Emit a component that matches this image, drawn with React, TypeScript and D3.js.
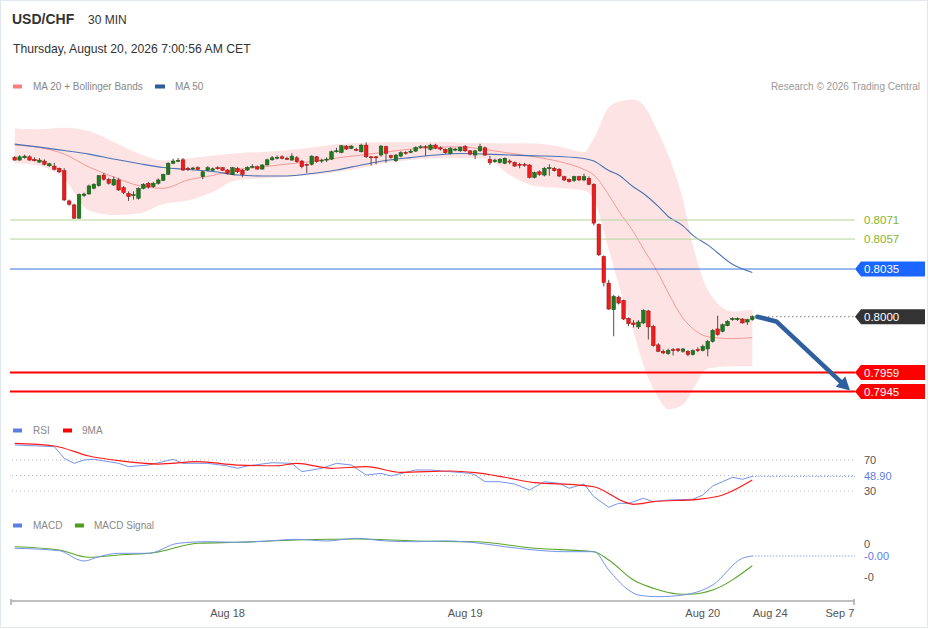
import React from 'react';
import * as d3 from 'd3';

const FONT = 'Arial, "Liberation Sans", Helvetica, sans-serif';

// 30 min candles, Aug 17 (late) .. Aug 20 07:00
const opens = [
  0.81170, 0.81150, 0.81167, 0.81174, 0.81155, 0.81135, 0.81143, 0.81108, 0.81106, 0.81089,
  0.81072, 0.80850, 0.80821, 0.80723, 0.80889, 0.80901, 0.80943, 0.80962, 0.81040, 0.81009,
  0.80967, 0.81004, 0.80947, 0.80906, 0.80892, 0.80870, 0.80943, 0.80979, 0.80955, 0.80979,
  0.81001, 0.81045, 0.81126, 0.81143, 0.81152, 0.81089, 0.81084, 0.81094, 0.81028, 0.81075,
  0.81075, 0.81094, 0.81094, 0.81077, 0.81045, 0.81089, 0.81077, 0.81077, 0.81097, 0.81101,
  0.81084, 0.81114, 0.81152, 0.81165, 0.81174, 0.81163, 0.81150, 0.81167, 0.81143, 0.81119,
  0.81119, 0.81174, 0.81143, 0.81150, 0.81157, 0.81211, 0.81206, 0.81253, 0.81236, 0.81229,
  0.81211, 0.81260, 0.81174, 0.81174, 0.81187, 0.81248, 0.81182, 0.81145, 0.81179, 0.81206,
  0.81206, 0.81216, 0.81243, 0.81248, 0.81229, 0.81260, 0.81240, 0.81229, 0.81199, 0.81223,
  0.81218, 0.81248, 0.81218, 0.81187, 0.81218, 0.81240, 0.81155, 0.81138, 0.81133, 0.81126,
  0.81143, 0.81133, 0.81119, 0.81119, 0.81114, 0.81023, 0.81064, 0.81040, 0.81089, 0.81089,
  0.81082, 0.81028, 0.81009, 0.80999, 0.81028, 0.81004, 0.81016, 0.80972, 0.80679, 0.80442,
  0.80247, 0.80051, 0.80144, 0.80119, 0.79988, 0.79954, 0.79925, 0.79954, 0.80042, 0.79929,
  0.79793, 0.79746, 0.79729, 0.79758, 0.79763, 0.79746, 0.79746, 0.79722, 0.79758, 0.79751,
  0.79763, 0.79819, 0.79910, 0.79892, 0.79934, 0.79978, 0.79978, 0.79983, 0.79961, 0.79978,
];
const highs = [
  0.81180, 0.81185, 0.81190, 0.81185, 0.81170, 0.81165, 0.81155, 0.81130, 0.81130, 0.81095,
  0.81090, 0.80860, 0.80830, 0.80905, 0.80910, 0.80970, 0.80980, 0.81040, 0.81055, 0.81020,
  0.81030, 0.81020, 0.80960, 0.80920, 0.80920, 0.80950, 0.80980, 0.80990, 0.80990, 0.81015,
  0.81050, 0.81135, 0.81160, 0.81165, 0.81165, 0.81100, 0.81100, 0.81105, 0.81070, 0.81105,
  0.81095, 0.81105, 0.81100, 0.81085, 0.81100, 0.81100, 0.81085, 0.81105, 0.81120, 0.81110,
  0.81120, 0.81160, 0.81180, 0.81185, 0.81185, 0.81175, 0.81200, 0.81180, 0.81150, 0.81125,
  0.81185, 0.81180, 0.81160, 0.81170, 0.81220, 0.81240, 0.81260, 0.81260, 0.81260, 0.81240,
  0.81270, 0.81280, 0.81180, 0.81180, 0.81260, 0.81255, 0.81190, 0.81195, 0.81215, 0.81215,
  0.81230, 0.81250, 0.81260, 0.81260, 0.81270, 0.81270, 0.81250, 0.81235, 0.81245, 0.81240,
  0.81250, 0.81260, 0.81225, 0.81225, 0.81270, 0.81250, 0.81180, 0.81160, 0.81165, 0.81170,
  0.81155, 0.81140, 0.81130, 0.81130, 0.81120, 0.81065, 0.81075, 0.81100, 0.81120, 0.81100,
  0.81090, 0.81035, 0.81015, 0.81035, 0.81035, 0.81050, 0.81030, 0.80980, 0.80685, 0.80450,
  0.80271, 0.80160, 0.80155, 0.80125, 0.79995, 0.79975, 0.79975, 0.80055, 0.80050, 0.79940,
  0.79805, 0.79760, 0.79765, 0.79770, 0.79770, 0.79770, 0.79755, 0.79760, 0.79775, 0.79795,
  0.79830, 0.79910, 0.80007, 0.79950, 0.79975, 0.79995, 0.79995, 0.79990, 0.79985, 0.80010,
];
const lows = [
  0.81145, 0.81145, 0.81160, 0.81145, 0.81140, 0.81130, 0.81110, 0.81100, 0.81075, 0.81055,
  0.80850, 0.80815, 0.80720, 0.80720, 0.80880, 0.80895, 0.80935, 0.80955, 0.81000, 0.80970,
  0.80960, 0.80925, 0.80900, 0.80850, 0.80860, 0.80860, 0.80935, 0.80940, 0.80945, 0.80970,
  0.80995, 0.81040, 0.81120, 0.81135, 0.81070, 0.81070, 0.81075, 0.81075, 0.81010, 0.81070,
  0.81070, 0.81080, 0.81070, 0.81045, 0.81040, 0.81055, 0.81025, 0.81070, 0.81090, 0.81080,
  0.81080, 0.81110, 0.81145, 0.81155, 0.81155, 0.81150, 0.81145, 0.81130, 0.81090, 0.81055,
  0.81110, 0.81130, 0.81130, 0.81135, 0.81150, 0.81205, 0.81200, 0.81225, 0.81230, 0.81215,
  0.81205, 0.81165, 0.81110, 0.81120, 0.81175, 0.81130, 0.81160, 0.81135, 0.81170, 0.81190,
  0.81200, 0.81210, 0.81235, 0.81180, 0.81220, 0.81230, 0.81220, 0.81195, 0.81190, 0.81215,
  0.81210, 0.81210, 0.81185, 0.81157, 0.81210, 0.81180, 0.81114, 0.81130, 0.81125, 0.81120,
  0.81120, 0.81100, 0.81090, 0.81100, 0.81015, 0.81015, 0.81035, 0.81030, 0.81035, 0.81065,
  0.81025, 0.80995, 0.80985, 0.80990, 0.80995, 0.80995, 0.80965, 0.80670, 0.80445, 0.80222,
  0.80050, 0.79856, 0.80090, 0.79975, 0.79930, 0.79920, 0.79910, 0.79945, 0.79832, 0.79780,
  0.79740, 0.79725, 0.79720, 0.79715, 0.79740, 0.79735, 0.79710, 0.79715, 0.79740, 0.79745,
  0.79709, 0.79810, 0.79860, 0.79885, 0.79930, 0.79970, 0.79970, 0.79950, 0.79940, 0.79970,
];
const closes = [
  0.81150, 0.81174, 0.81179, 0.81150, 0.81145, 0.81150, 0.81119, 0.81123, 0.81082, 0.81064,
  0.80857, 0.80826, 0.80723, 0.80896, 0.80901, 0.80960, 0.80972, 0.81035, 0.81009, 0.80980,
  0.81009, 0.80930, 0.80911, 0.80881, 0.80896, 0.80943, 0.80972, 0.80952, 0.80979, 0.81004,
  0.81045, 0.81126, 0.81143, 0.81148, 0.81077, 0.81082, 0.81092, 0.81082, 0.81064, 0.81094,
  0.81086, 0.81086, 0.81075, 0.81053, 0.81094, 0.81064, 0.81045, 0.81097, 0.81104, 0.81084,
  0.81114, 0.81152, 0.81167, 0.81170, 0.81163, 0.81155, 0.81179, 0.81138, 0.81101, 0.81114,
  0.81179, 0.81138, 0.81150, 0.81157, 0.81211, 0.81218, 0.81255, 0.81231, 0.81253, 0.81221,
  0.81260, 0.81174, 0.81170, 0.81170, 0.81253, 0.81199, 0.81170, 0.81187, 0.81204, 0.81199,
  0.81216, 0.81243, 0.81248, 0.81240, 0.81260, 0.81236, 0.81231, 0.81204, 0.81236, 0.81231,
  0.81243, 0.81218, 0.81194, 0.81218, 0.81248, 0.81187, 0.81130, 0.81150, 0.81155, 0.81163,
  0.81135, 0.81106, 0.81114, 0.81111, 0.81023, 0.81057, 0.81045, 0.81089, 0.81094, 0.81072,
  0.81033, 0.81004, 0.80991, 0.81028, 0.81004, 0.81028, 0.80972, 0.80687, 0.80454, 0.80251,
  0.80056, 0.80149, 0.80100, 0.79983, 0.79949, 0.79941, 0.79961, 0.80046, 0.79925, 0.79788,
  0.79746, 0.79734, 0.79753, 0.79751, 0.79751, 0.79763, 0.79722, 0.79751, 0.79751, 0.79782,
  0.79819, 0.79900, 0.79868, 0.79941, 0.79966, 0.79988, 0.79988, 0.79954, 0.79978, 0.80000,
];

// moving averages / bands read at these candle indices
const maIdx = [0, 5, 10, 15, 20, 25, 30, 35, 40, 45, 50, 55, 60, 65, 70, 75, 80, 85, 90, 95,
  100, 105, 110, 115, 117, 120, 122, 125, 127, 130, 132, 135, 137, 140, 145, 149];
const ma50 = [0.81267, 0.81245, 0.81220, 0.81194, 0.81158, 0.81125, 0.81095, 0.81081, 0.81066, 0.81040,
  0.81033, 0.81033, 0.81051, 0.81077, 0.81114, 0.81147, 0.81168, 0.81187, 0.81198, 0.81194,
  0.81187, 0.81181, 0.81176, 0.81161, 0.81143, 0.81073, 0.81040, 0.80952, 0.80905, 0.80810,
  0.80736, 0.80667, 0.80597, 0.80527, 0.80385, 0.80325];
const ma20 = [0.81260, 0.81242, 0.81194, 0.81099, 0.81026, 0.80963, 0.80943, 0.81004, 0.81037, 0.81081,
  0.81099, 0.81121, 0.81139, 0.81165, 0.81187, 0.81209, 0.81231, 0.81243, 0.81248, 0.81227,
  0.81201, 0.81174, 0.81139, 0.81081, 0.81040, 0.80894, 0.80777, 0.80623, 0.80498, 0.80319,
  0.80176, 0.79989, 0.79912, 0.79853, 0.79839, 0.79846];
const bbUpper = [0.81382, 0.81377, 0.81388, 0.81363, 0.81282, 0.81198, 0.81147, 0.81161, 0.81183, 0.81201,
  0.81209, 0.81223, 0.81242, 0.81267, 0.81278, 0.81282, 0.81282, 0.81284, 0.81278, 0.81275,
  0.81273, 0.81271, 0.81249, 0.81209, 0.81311, 0.81538, 0.81579, 0.81593, 0.81553, 0.81355,
  0.81187, 0.80857, 0.80527, 0.80198, 0.80039, 0.80051];
const bbLower = [0.81126, 0.81106, 0.81011, 0.80780, 0.80747, 0.80758, 0.80828, 0.80853, 0.80916, 0.81004,
  0.81015, 0.81026, 0.81040, 0.81062, 0.81092, 0.81128, 0.81150, 0.81163, 0.81163, 0.81161,
  0.81040, 0.80960, 0.80945, 0.80927, 0.80857, 0.80491, 0.80234, 0.79890, 0.79648, 0.79407,
  0.79319, 0.79355, 0.79465, 0.79619, 0.79637, 0.79636];

const resistances = [0.8071, 0.8057];
const pivot = 0.8035;
const supports = [0.7959, 0.7945];
const lastPrice = 0.8000;

const rsiIdx = [0, 8, 10, 12, 14, 16, 21, 23, 27, 32, 34, 39, 43, 45, 47, 52, 56, 58, 62, 65,
  68, 71, 74, 76, 81, 84, 88, 92, 93, 95, 98, 101, 104, 107, 110, 112, 115, 117, 120, 122,
  124, 127, 129, 132, 137, 139, 141, 143, 145, 147, 149];
const rsiVal = [89.4, 87.2, 72.2, 65.7, 70, 70.9, 65.7, 61.4, 63.5, 70.9, 65.7, 65.7, 62.3, 59.3, 62.3, 66.5, 65.7, 54.9, 59.3, 65.7,
  63.5, 50.6, 52.8, 49.4, 57.1, 57.1, 54.9, 52.8, 50.6, 42, 42, 39, 31.3, 42, 39.9, 33.5, 39, 22.6, 9, 14.1,
  14.1, 20.6, 16.2, 18.4, 19.3, 24.8, 36.5, 42, 47.7, 45.1, 48.9];
const rsiMaIdx = [0, 8, 15, 21, 29, 37, 45, 53, 57, 64, 71, 78, 88, 93, 99, 105, 114, 117, 125, 129, 138, 143, 149];
const rsiMaVal = [91.5, 88.1, 75.2, 69.1, 64.8, 67.8, 63.5, 62.6, 65.7, 59.3, 61.4, 54.1, 55.8, 53.6, 47.7, 40.7, 37.7, 35.5, 12.8, 16.2, 19.3, 24.8, 44.2];
const rsiTicks = [70, 30];
const rsiLast = 48.9;

const macdIdx = [0, 9, 13, 14, 17, 21, 27, 33, 39, 45, 51, 57, 63, 69, 75, 81, 87, 93, 99, 105,
  111, 117, 120, 124, 126, 130, 135, 141, 147, 149];
const macdVal = [-0.000130, -0.000203, -0.000485, -0.000515, -0.000385, -0.000282, -0.000282, 0.000021, 0.000070, 0.000052,
  0.000091, 0.000142, 0.000091, 0.000173, 0.000091, 0.000070, 0.000091, 0.000039, -0.000082, -0.000182,
  -0.000233, -0.000233, -0.000788, -0.001394, -0.001545, -0.001597, -0.001545, -0.001242, -0.000433, -0.000364];
const signalIdx = [0, 9, 15, 21, 28, 37, 45, 57, 69, 81, 93, 105, 117, 120, 125, 129, 134, 136, 141, 149];
const signalVal = [-0.000082, -0.000182, -0.000403, -0.000333, -0.000264, 0.000021, 0.000052, 0.000121, 0.000152, 0.000091,
  0.000070, -0.000130, -0.000233, -0.000485, -0.001091, -0.001342, -0.001515, -0.001524, -0.001394, -0.000658];
const macdTicks = [0, -0.001];
const macdTickLabels = ['0', '-0'];
const macdLastLabel = '-0.00';

const xTickIdx = [43, 91, 139, 152.6, 166.7];
const xTickLabels = ['Aug 18', 'Aug 19', 'Aug 20', 'Aug 24', 'Sep 7'];

const UP = '#1f7a1f';
const DOWN = '#ee1c1c';
const BLUE = '#5b80e4';
const PLOT_L = 10;
const PLOT_R = 855;

const tag = (yy: number) =>
  `M${PLOT_R},${yy} L${PLOT_R + 6},${yy - 7.5} L925,${yy - 7.5} L925,${yy + 7.5} L${PLOT_R + 6},${yy + 7.5} Z`;

export default function App() {
  const n = closes.length;
  const x = d3.scaleLinear().domain([0, n - 1]).range([14.7, 752.3]);
  const y = d3.scaleLinear().domain([0.7945, 0.8071]).range([391.6, 220]);
  const yRsi = d3.scaleLinear().domain([30, 70]).range([491, 460]);
  const yMacd = d3.scaleLinear().domain([-0.001, 0]).range([577, 544]);

  const curve = (idx: number[], vals: number[], ys: d3.ScaleLinear<number, number>, c: d3.CurveFactory = d3.curveMonotoneX) =>
    d3.line<number>().x((_, i) => x(idx[i])).y(v => ys(v)).curve(c)(vals) || '';

  const band = d3.area<number>()
    .x((_, i) => x(maIdx[i]))
    .y0((_, i) => y(bbLower[i]))
    .y1(v => y(v))
    .curve(d3.curveMonotoneX)(bbUpper) || '';

  const bw = 3.6;
  const lastX = x(n - 1);

  // forecast arrow
  const a0 = [lastX + 5, y(lastPrice)];
  const a1 = [lastX + 24, y(0.79965)];
  const tip = [850, y(supports[1]) - 1];
  const ang = Math.atan2(tip[1] - a1[1], tip[0] - a1[0]);
  const headLen = 13, headW = 7;
  const hb = [tip[0] - headLen * Math.cos(ang), tip[1] - headLen * Math.sin(ang)];
  const head = [
    tip,
    [hb[0] + headW * Math.sin(ang), hb[1] - headW * Math.cos(ang)],
    [hb[0] - headW * Math.sin(ang), hb[1] + headW * Math.cos(ang)],
  ];

  const legendText = { fontSize: 10, fill: '#888', fontFamily: FONT } as const;
  const axisText = { fontSize: 11, fill: '#555', fontFamily: FONT } as const;

  return (
    <svg width={929} height={629} style={{ position: 'absolute', left: 0, top: 0, background: '#fff' }}>
      <rect x={0.5} y={0.5} width={927} height={627} fill="#fff" stroke="#e2e7ee" />

      {/* header */}
      <text x={12} y={24} fontFamily={FONT} fontSize={14} fontWeight="bold" fill="#333">USD/CHF</text>
      <text x={88} y={23.5} fontFamily={FONT} fontSize={12} fill="#333">30 MIN</text>
      <text x={13} y={53} fontFamily={FONT} fontSize={12.2} fill="#333">Thursday, August 20, 2026 7:00:56 AM CET</text>

      <rect x={13} y={84.5} width={9} height={4} fill="#ff7b7b" />
      <text x={33} y={89.5} {...legendText}>MA 20 + Bollinger Bands</text>
      <rect x={155} y={84.5} width={10} height={4} fill="#2c5c9c" />
      <text x={175} y={89.5} {...legendText}>MA 50</text>
      <text x={920} y={89.5} textAnchor="end" {...legendText} fill="#999">Research © 2026 Trading Central</text>

      {/* bollinger + MAs */}
      <path d={band} fill="#fde3e3" />
      <path d={curve(maIdx, ma20, y)} fill="none" stroke="#f59a9a" strokeWidth={1} />
      <path d={curve(maIdx, ma50, y)} fill="none" stroke="#4a72b2" strokeWidth={1.1} />

      {/* levels */}
      {resistances.map(v => (
        <g key={v}>
          <line x1={PLOT_L} x2={PLOT_R} y1={y(v)} y2={y(v)} stroke="#b3d69a" strokeWidth={1} />
          <text x={864} y={y(v) + 4} fontFamily={FONT} fontSize={11.5} fill="#86b52a">{v.toFixed(4)}</text>
        </g>
      ))}
      <line x1={PLOT_L} x2={PLOT_R} y1={y(pivot)} y2={y(pivot)} stroke="#3a73dc" strokeWidth={1} />
      <path d={tag(y(pivot))} fill="#1a66ff" />
      <text x={864} y={y(pivot) + 4} fontFamily={FONT} fontSize={11.5} fill="#fff">{pivot.toFixed(4)}</text>

      {supports.map(v => (
        <g key={v}>
          <line x1={PLOT_L} x2={PLOT_R} y1={y(v)} y2={y(v)} stroke="#ff0000" strokeWidth={2} />
          <path d={tag(y(v))} fill="#ff0000" />
          <text x={864} y={y(v) + 4} fontFamily={FONT} fontSize={11.5} fill="#fff">{v.toFixed(4)}</text>
        </g>
      ))}

      <line x1={lastX + 4} x2={PLOT_R} y1={y(lastPrice)} y2={y(lastPrice)} stroke="#444" strokeWidth={1} strokeDasharray="1,3" />
      <path d={tag(y(lastPrice))} fill="#333" />
      <text x={864} y={y(lastPrice) + 4} fontFamily={FONT} fontSize={11.5} fill="#fff">{lastPrice.toFixed(4)}</text>

      {/* candles */}
      {closes.map((c, i) => {
        const o = opens[i];
        const up = c >= o;
        const top = y(Math.max(o, c));
        const h = Math.max(1, Math.abs(y(o) - y(c)));
        return (
          <g key={i}>
            <line x1={x(i)} x2={x(i)} y1={y(highs[i])} y2={y(lows[i])} stroke="#5a4a4a" strokeWidth={1} />
            <rect x={x(i) - bw / 2} y={top} width={bw} height={h}
              fill={up ? UP : DOWN} stroke={up ? '#155215' : '#9a1010'} strokeWidth={0.5} />
          </g>
        );
      })}

      {/* forecast arrow */}
      <polyline points={`${a0.join(',')} ${a1.join(',')} ${hb.join(',')}`} fill="none"
        stroke="#2e5f9f" strokeWidth={4.5} strokeLinejoin="round" strokeLinecap="round" />
      <polygon points={head.map(p => p.join(',')).join(' ')} fill="#2e5f9f" />

      {/* RSI */}
      <rect x={13} y={428.5} width={9} height={4} fill={BLUE} />
      <text x={33} y={433.5} {...legendText}>RSI</text>
      <rect x={63} y={428.5} width={9} height={4} fill="#ff0000" />
      <text x={82} y={433.5} {...legendText}>9MA</text>

      {[...rsiTicks, 50].map(v => (
        <line key={v} x1={12} x2={PLOT_R} y1={yRsi(v)} y2={yRsi(v)} stroke="#b8b8b8" strokeDasharray="1,3" />
      ))}
      <line x1={lastX} x2={PLOT_R} y1={yRsi(rsiLast)} y2={yRsi(rsiLast)} stroke={BLUE} strokeDasharray="1,2" />
      {rsiTicks.map(v => (
        <text key={v} x={864} y={yRsi(v) + 4} {...axisText}>{v}</text>
      ))}
      <text x={864} y={yRsi(rsiLast) + 4} {...axisText} fill={BLUE}>{rsiLast.toFixed(2)}</text>
      <path d={curve(rsiIdx, rsiVal, yRsi, d3.curveLinear)} fill="none" stroke="#7394ea" strokeWidth={1} />
      <path d={curve(rsiMaIdx, rsiMaVal, yRsi)} fill="none" stroke="#ff1a1a" strokeWidth={1.2} />

      {/* MACD */}
      <rect x={13} y={523.5} width={9} height={4} fill={BLUE} />
      <text x={33} y={528.5} {...legendText}>MACD</text>
      <rect x={75} y={523.5} width={9} height={4} fill="#4c9f1b" />
      <text x={94} y={528.5} {...legendText}>MACD Signal</text>

      {macdTicks.map((v, i) => (
        <text key={v} x={864} y={yMacd(v) + 4} {...axisText}>{macdTickLabels[i]}</text>
      ))}
      <line x1={lastX} x2={PLOT_R} y1={yMacd(macdVal[macdVal.length - 1])} y2={yMacd(macdVal[macdVal.length - 1])}
        stroke={BLUE} strokeDasharray="1,2" />
      <text x={864} y={yMacd(macdVal[macdVal.length - 1]) + 4} {...axisText} fill={BLUE}>{macdLastLabel}</text>
      <path d={curve(signalIdx, signalVal, yMacd)} fill="none" stroke="#5aa52a" strokeWidth={1.1} />
      <path d={curve(macdIdx, macdVal, yMacd)} fill="none" stroke="#7394ea" strokeWidth={1} />

      {/* time axis */}
      <line x1={11} x2={PLOT_R - 1} y1={601} y2={601} stroke="#aaa" strokeWidth={1.5} />
      <line x1={11} x2={11} y1={599} y2={605} stroke="#aaa" strokeWidth={1.5} />
      <line x1={PLOT_R - 1} x2={PLOT_R - 1} y1={599} y2={605} stroke="#aaa" strokeWidth={1.5} />
      {xTickIdx.map((t, i) => (
        <text key={t} x={x(t)} y={617} textAnchor="middle" {...axisText}>{xTickLabels[i]}</text>
      ))}
    </svg>
  );
}
